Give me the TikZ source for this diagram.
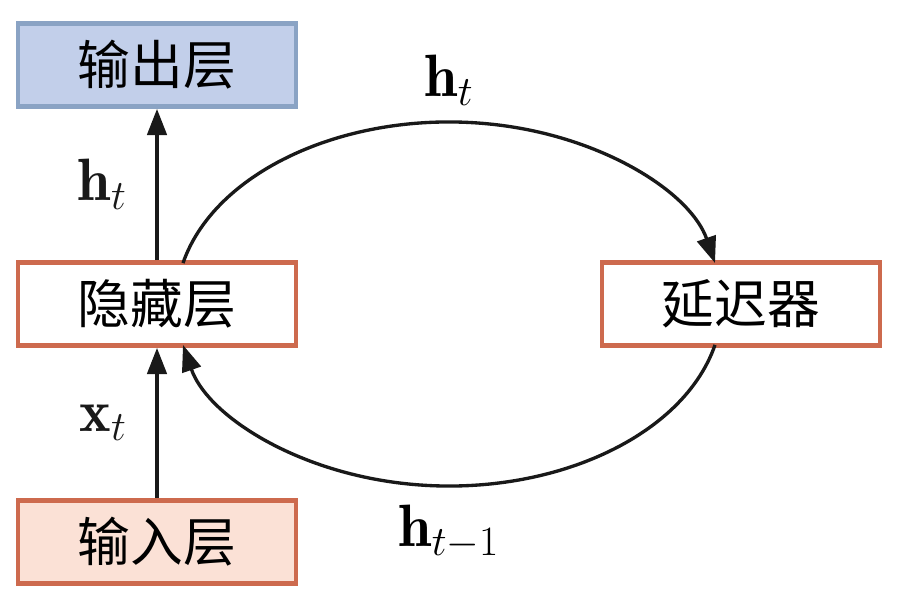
\RequirePackage{fix-cm}
\documentclass[tikz,border=0pt]{standalone}
\usepackage{fontspec}
\newfontfamily\cjk{Noto Sans CJK SC}
\usetikzlibrary{arrows.meta,calc,positioning}
\definecolor{outfill}{RGB}{194,207,234}
\definecolor{outline}{RGB}{138,163,196}
\definecolor{infill}{RGB}{251,225,214}
\definecolor{redline}{RGB}{205,106,78}
\tikzset{
  layer/.style={draw=redline,line width=2.6pt,fill=white,minimum width=5.56cm,
    minimum height=1.66cm,font=\cjk\fontsize{30}{36}\selectfont},
  arr/.style={-{Triangle[length=15pt,width=11pt]},line width=2.2pt,black!90},
  loop/.style={-{Triangle[length=15pt,width=11pt]},line width=1.9pt,black!90},
  lab/.style={font=\fontsize{34}{40}\selectfont}
}
\begin{document}
\begin{tikzpicture}
  \useasboundingbox (0,0) rectangle (17.96,12.18);
  % layers
  \node[layer,draw=outline,fill=outfill] (out) at (3.14,10.88) {输出层};
  \node[layer] (hid) at (3.14,6.10) {隐藏层};
  \node[layer,fill=infill] (in) at (3.14,1.34) {输入层};
  \node[layer] (delay) at (14.82,6.10) {延迟器};
  % straight arrows
  \draw[arr] (in.north) -- node[lab,left=0.45cm] (xlab) {$\mathbf{x}_t$} (hid.south);
  \draw[arr] (hid.north) -- node[lab,left=0.45cm] (hlab) {$\mathbf{h}_t$} (out.south);
  % recurrent loop (elliptic arcs)
  \coordinate (c) at (8.98,6.10);
  \coordinate (top) at ($(c)+(0,3.64)$);
  \coordinate (bot) at ($(c)+(0,-3.64)$);
  \draw[loop] ($(c)+(167:5.46 and 3.64)$) arc[start angle=167,end angle=13,x radius=5.46,y radius=3.64];
  \draw[loop] ($(c)+(-13:5.46 and 3.64)$) arc[start angle=-13,end angle=-167,x radius=5.46,y radius=3.64];
  \node[lab,above=0.2cm of top] (toplab) {$\mathbf{h}_t$};
  \node[lab,below=0.25cm of bot] (botlab) {$\mathbf{h}_{t-1}$};
\end{tikzpicture}
\end{document}
